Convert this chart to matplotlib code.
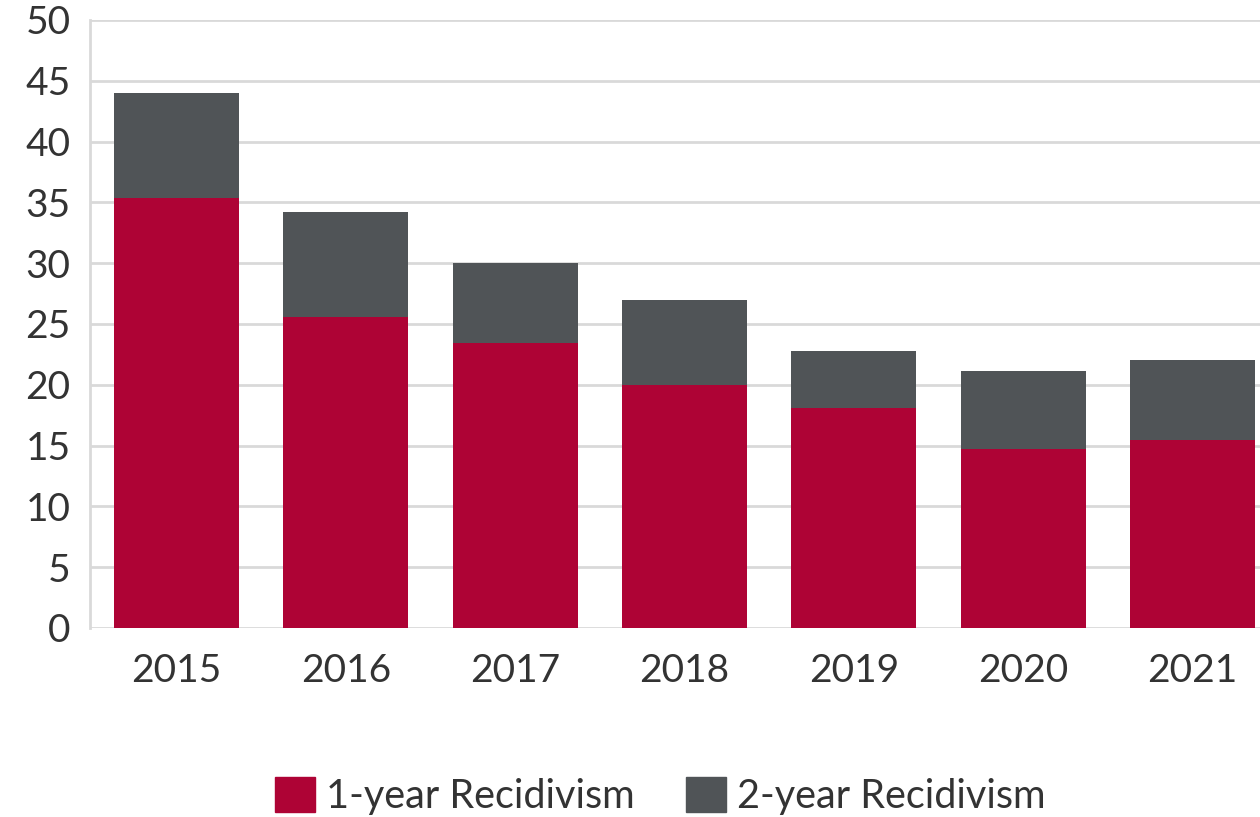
import matplotlib
matplotlib.use('Agg')
from matplotlib import pyplot as plt
from matplotlib.patches import Patch
import numpy as np

# recidivism rates (%)
years = ['2015', '2016', '2017', '2018', '2019', '2020', '2021']
one_year = [35.4, 25.6, 23.4, 20.0, 18.1, 14.7, 15.5]
two_year = [44.0, 34.2, 30.0, 27.0, 22.8, 21.1, 22.0]

red = '#ae0335'
grey = '#505457'
txt = '#333333'

plt.rcParams['font.family'] = ['Lato', 'DejaVu Sans']

fig = plt.figure(figsize=(12.6, 8.17), dpi=100)
ax = fig.add_axes([90 / 1260, 1 - 628 / 817, 1 - 90 / 1260, 608 / 817])

x = np.arange(len(years))
gap = np.array(two_year) - np.array(one_year)
ax.bar(x, one_year, width=0.738, color=red, zorder=3)
ax.bar(x, gap, bottom=one_year, width=0.738, color=grey, zorder=3)

ax.set_ylim(0, 50)
ax.set_xlim(-0.511, 6.399)
ax.set_yticks(range(0, 51, 5))
ax.set_xticks(x)
ax.set_xticklabels(years)
ax.grid(axis='y', color='#d9d9d9', linewidth=2, zorder=0)
ax.set_axisbelow(True)

for s in ['top', 'right', 'bottom']:
    ax.spines[s].set_visible(False)
ax.spines['left'].set_color('#d9d9d9')
ax.spines['left'].set_linewidth(2)

ax.tick_params(axis='both', length=0, labelsize=28, labelcolor=txt)
ax.tick_params(axis='x', pad=18)
ax.tick_params(axis='y', pad=14)

handles = [Patch(color=red, label='1-year Recidivism'),
           Patch(color=grey, label='2-year Recidivism')]
fig.legend(handles=handles, loc='center', bbox_to_anchor=(0.524, 0.0257),
           ncol=2, frameon=False, fontsize=28.5, handlelength=1.0, handleheight=1.0,
           handletextpad=0.28, columnspacing=1.3, borderpad=0, labelcolor=txt)

fig.savefig('out.png', dpi=100)
